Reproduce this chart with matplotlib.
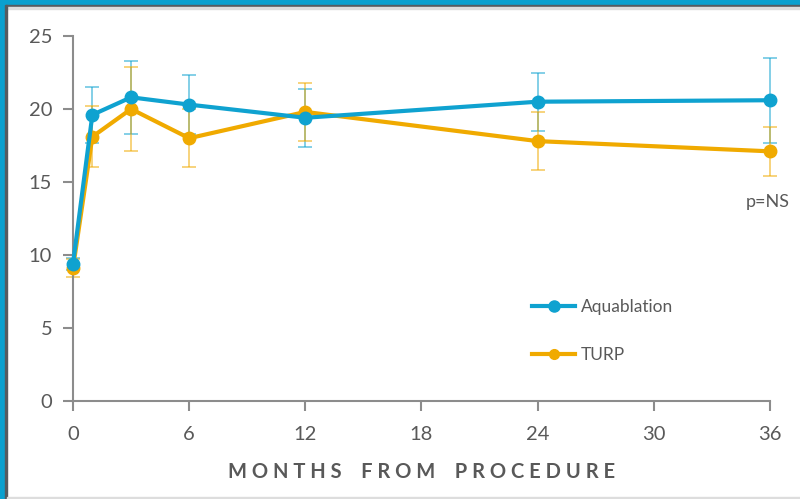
import matplotlib
matplotlib.use("Agg")
import matplotlib.pyplot as plt
from matplotlib.patches import Rectangle
from matplotlib.lines import Line2D

months = [0, 1, 3, 6, 12, 24, 36]
aqua = [9.4, 19.6, 20.8, 20.3, 19.4, 20.5, 20.6]
aqua_err = [0.4, 1.9, 2.5, 2.0, 2.0, 2.0, 2.9]
turp = [9.1, 18.1, 20.0, 18.0, 19.8, 17.8, 17.1]
turp_err = [0.6, 2.1, 2.9, 2.0, 2.0, 2.0, 1.7]
xticks = [0, 6, 12, 18, 24, 30, 36]
yticks = [0, 5, 10, 15, 20, 25]

BLUE = "#0FA2D0"
GOLD = "#F0AA00"
GRAY_AX = "#8C8C8C"
GRAY_TXT = "#595959"

plt.rcParams['font.family'] = ['Lato', 'DejaVu Sans']

fig = plt.figure(figsize=(8, 4.99), dpi=100)
W, H = 800, 499
# frame decoration
fig.patches.append(Rectangle((0, 1 - 5 / H), 1, 5 / H, transform=fig.transFigure, color="#0AA0CF", zorder=0))
fig.patches.append(Rectangle((0, 1 - 7 / H), 1, 2 / H, transform=fig.transFigure, color="#555B60", zorder=0))
fig.patches.append(Rectangle((0, 1 - 9 / H), 1, 2 / H, transform=fig.transFigure, color="#DDDDDD", zorder=0))
fig.patches.append(Rectangle((0, 0), 5 / W, 1, transform=fig.transFigure, color="#0AA0CF", zorder=0))
fig.patches.append(Rectangle((5 / W, 0), 2 / W, 1 - 5 / H, transform=fig.transFigure, color="#555B60", zorder=0))
fig.patches.append(Rectangle((7 / W, 0), 1, 2 / H, transform=fig.transFigure, color="#DDDDDD", zorder=0))

ax = fig.add_axes([73 / W, 1 - 401 / H, (770 - 73) / W, (401 - 36) / H])

ax.errorbar(months, aqua, yerr=aqua_err, fmt='none', ecolor=BLUE, alpha=0.6,
            elinewidth=1.2, capsize=5, capthick=1.2, zorder=2, clip_on=False)
ax.errorbar(months, turp, yerr=turp_err, fmt='none', ecolor=GOLD, alpha=0.6,
            elinewidth=1.2, capsize=5, capthick=1.2, zorder=2, clip_on=False)
ax.plot(months, aqua, color=BLUE, lw=3, marker='o', ms=9, zorder=4, clip_on=False)
ax.plot(months, turp, color=GOLD, lw=3, marker='o', ms=9, zorder=3, clip_on=False)

ax.set_xlim(0, 36)
ax.set_ylim(0, 25)
ax.set_xticks(xticks)
ax.set_yticks(yticks)
for s in ['top', 'right']:
    ax.spines[s].set_visible(False)
for s in ['left', 'bottom']:
    ax.spines[s].set_color(GRAY_AX)
    ax.spines[s].set_linewidth(1.5)
ax.tick_params(axis='both', colors=GRAY_AX, length=7, width=1.5, direction='out',
               labelcolor=GRAY_TXT, labelsize=14.5)
ax.tick_params(axis='x', pad=11)
ax.tick_params(axis='y', pad=8)

ax.set_xlabel("M O N T H S    F R O M    P R O C E D U R E", fontsize=14.5,
              fontweight='bold', color=GRAY_TXT, labelpad=14)

ax.text(37.0, 13.6, "p=NS", fontsize=13, color=GRAY_TXT, ha='right', va='center')

handles = [Line2D([], [], color=BLUE, lw=3, marker='o', ms=8),
           Line2D([], [], color=GOLD, lw=3, marker='o', ms=7)]
ax.legend(handles, ["Aquablation", "TURP"], loc='center left',
          bbox_to_anchor=(0.636, 0.192), frameon=False, fontsize=12.5,
          labelcolor=GRAY_TXT, handlelength=2.5, handletextpad=0.3,
          labelspacing=1.85)

fig.savefig("out.png", dpi=100)
